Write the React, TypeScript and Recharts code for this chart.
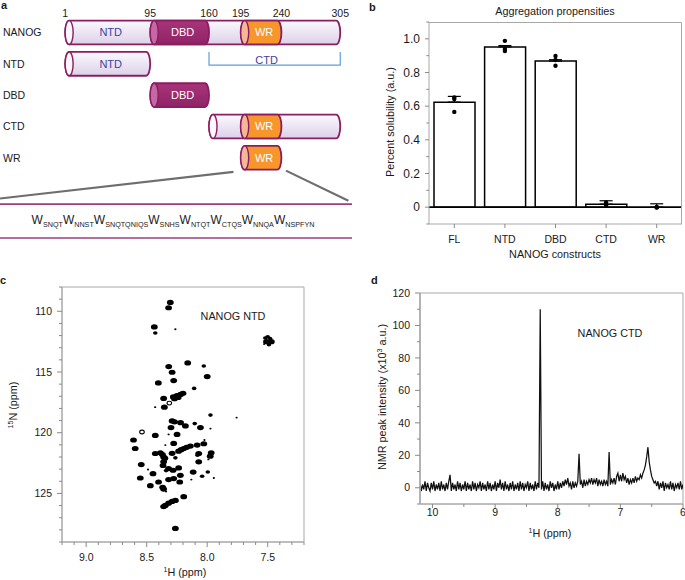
import React from 'react';
import {
  ComposedChart,
  ScatterChart,
  LineChart,
  Bar,
  Line,
  Scatter,
  XAxis,
  YAxis,
  ReferenceArea,
  ReferenceLine,
  ErrorBar,
} from 'recharts';

const FONT = '"Liberation Sans", Arial, Helvetica, sans-serif';
const GRAY = '#a8a8a8';
const TICK = '#8a8a8a';
const INK = '#1a1a1a';

/* ---------------- Panel a: domain architecture ---------------- */
const CONSTRUCTS = ['NANOG', 'NTD', 'DBD', 'CTD', 'WR'];
const RESIDUE_MARKS = [1, 95, 160, 195, 240, 305];
const BACK_SEGMENTS = [
  { row: 0, start: 1, end: 305 },
  { row: 1, start: 1, end: 95 },
  { row: 3, start: 160, end: 305 },
];
const DBD_SEGMENTS = [
  { row: 0, start: 95, end: 160 },
  { row: 2, start: 95, end: 160 },
];
const WR_SEGMENTS = [
  { row: 0, start: 195, end: 240 },
  { row: 3, start: 195, end: 240 },
  { row: 4, start: 195, end: 240 },
];
const DOMAIN_LABELS = [
  { row: 0, start: 1, end: 95, text: 'NTD', kind: 'lav' },
  { row: 1, start: 1, end: 95, text: 'NTD', kind: 'lav' },
  { row: 0, start: 95, end: 160, text: 'DBD', kind: 'dbd' },
  { row: 2, start: 95, end: 160, text: 'DBD', kind: 'dbd' },
  { row: 0, start: 195, end: 240, text: 'WR', kind: 'wr' },
  { row: 3, start: 195, end: 240, text: 'WR', kind: 'wr' },
  { row: 4, start: 195, end: 240, text: 'WR', kind: 'wr' },
];
const CTD_SPAN = { start: 160, end: 305, text: 'CTD' };
const WR_REPEAT = ['SNQT', 'NNST', 'SNQTQNIQS', 'SNHS', 'NTQT', 'CTQS', 'NNQA', 'NSPFYN'];

/* ---------------- Panel b: aggregation propensities ---------------- */
const B_CONSTRUCTS = ['FL', 'NTD', 'DBD', 'CTD', 'WR'];
const B_MEAN = [0.624, 0.952, 0.868, 0.018, 0];
const B_ERR_UP = [0.034, 0.008, 0.008, 0.02, 0.02];
const B_REP1 = [0.652, 0.988, 0.898, 0.028, 0];
const B_REP2 = [0.642, 0.94, 0.874, 0.016, 0];
const B_REP3 = [0.566, 0.928, 0.84, 0.008, -0.002];
const B_TICKS = [-0.1, 0, 0.1, 0.2, 0.3, 0.4, 0.5, 0.6, 0.7, 0.8, 0.9, 1.0, 1.1];

/* ---------------- Panel c: 2D HSQC peaks (1H ppm, 15N ppm, intensity class) ---------------- */
const NTD_PEAKS: [number, number, number][] = [
  [8.305, 109.27, 3], [8.319, 109.71, 3], [8.437, 111.29, 3], [8.429, 111.79, 2], [8.263, 111.48, 1],
  [7.52, 112.2, 2], [7.5, 112.1, 2], [7.48, 112.25, 2], [7.51, 112.5, 3], [7.47, 112.5, 3], [7.49, 112.75, 2], [7.53, 112.7, 1],
  [8.161, 114.25, 3], [8.318, 114.55, 3], [8.028, 114.5, 2], [8.29, 115.02, 3], [8.0, 115.38, 3],
  [8.404, 115.9, 3], [8.277, 115.71, 3], [8.108, 116.35, 2],
  [8.2, 116.75, 3], [8.22, 116.85, 3], [8.25, 116.95, 3], [8.28, 117.05, 3], [8.24, 117.1, 3], [8.27, 117.2, 3],
  [8.36, 117.18, 3], [8.313, 117.56, 4], [8.354, 117.9, 3], [8.43, 117.9, 1], [7.973, 118.55, 2], [7.757, 118.75, 1],
  [8.29, 119.03, 3], [8.22, 119.17, 3], [8.18, 119.44, 3], [8.103, 119.25, 2], [8.056, 119.58, 3], [7.973, 119.66, 1],
  [8.299, 119.58, 3], [8.27, 119.1, 3],
  [8.539, 119.94, 4], [8.429, 120.22, 3], [8.249, 120.14, 3], [8.319, 120.14, 1], [8.609, 120.6, 3], [8.595, 121.3, 3],
  [8.023, 120.6, 1], [8.277, 120.88, 3],
  [8.028, 120.91, 3], [8.083, 121.02, 3], [8.139, 121.1, 3], [8.194, 121.3, 3], [8.236, 121.52, 3], [8.29, 121.7, 3],
  [8.215, 121.4, 3], [8.17, 121.2, 3],
  [8.346, 121.02, 1], [8.387, 121.66, 3], [8.429, 121.71, 3], [8.37, 121.8, 3], [8.36, 122.0, 3],
  [8.07, 121.71, 3], [8.08, 121.85, 2], [7.967, 121.66, 3], [7.975, 121.93, 3], [7.99, 122.2, 1],
  [8.07, 122.4, 3], [8.35, 122.1, 3], [8.36, 122.4, 3], [8.365, 122.7, 3], [8.263, 122.07, 2], [8.545, 122.62, 3],
  [8.489, 123.03, 1],
  [8.319, 122.95, 3], [8.282, 123.09, 3], [8.236, 122.9, 3], [8.34, 123.12, 2], [8.448, 123.37, 3], [8.116, 123.24, 3],
  [7.995, 123.24, 2],
  [8.222, 123.51, 3], [8.553, 123.73, 3], [8.042, 123.59, 2], [7.945, 123.73, 1], [8.277, 123.78, 3], [8.319, 123.86, 3],
  [8.131, 123.86, 1],
  [8.402, 124.06, 3], [8.227, 124.06, 3], [8.47, 124.36, 3], [8.368, 124.5, 3], [8.36, 124.64, 3], [8.34, 124.85, 1],
  [8.194, 125.27, 3], [8.263, 125.58, 3], [8.29, 125.66, 3], [8.319, 125.8, 3], [8.346, 125.99, 3], [8.36, 126.08, 3],
  [8.263, 127.88, 3],
];
const C_X_TICKS = [7.2, 7.3, 7.4, 7.5, 7.6, 7.7, 7.8, 7.9, 8.0, 8.1, 8.2, 8.3, 8.4, 8.5, 8.6, 8.7, 8.8, 8.9, 9.0, 9.1, 9.2];
const C_Y_TICKS = [108, 109, 110, 111, 112, 113, 114, 115, 116, 117, 118, 119, 120, 121, 122, 123, 124, 125, 126, 127, 128, 129];

/* ---------------- Panel d: 1D spectrum of NANOG CTD ---------------- */
const SPEC_START_PPM = 10.2;
const SPEC_STEP_PPM = 0.02;
const SPEC_INTENSITY = [
  3, -2, 2, -1, 4, -2, 3, 0, -2, 3,
  -1, 4, -2, 2, -1, 3, -2, 4, -1, 2,
  -2, 3, -1, 4, 8, -2, 3, -1, 2, -2,
  4, -1, 3, -2, 2, -1, 4, -2, 3, -1,
  2, -2, 4, -1, 3, -2, 2, 0, 4, -2,
  3, -1, 2, -2, 4, -1, 3, -2, 2, -1,
  4, -2, 3, 0, 5, -1, 3, -2, 4, -1,
  2, -2, 3, -1, 4, -2, 2, -1, 3, -2,
  4, -1, 3, -2, 2, 0, 4, -2, 3, -1,
  2, -2, 4, -1, 3, 0, 110, -1, 4, -2,
  3, -1, 2, -2, 4, 0, 3, -2, 2, -1,
  4, -1, 3, 0, 4, 1, 5, 2, 6, 1,
  3, -1, 4, 0, 3, 1, 4, 21, 2, 4,
  0, 5, 1, 4, 2, 5, 3, 6, 2, 5,
  3, 6, 1, 5, 2, 4, 1, 5, 2, 4,
  1, 22, 2, 5, 3, 6, 2, 7, 9, 4,
  8, 4, 9, 5, 7, 3, 6, 2, 5, 3,
  6, 3, 7, 4, 6, 5, 8, 6, 9, 11,
  14, 19, 25, 16, 11, 7, 5, 3, 4, 1,
  4, -1, 3, 0, 4, -2, 3, 0, 2, -1,
  4, -1, 3, -2, 2, 0, 3, -1, 4, -1,
  2,
];
const D_X_TICKS = [6, 6.5, 7, 7.5, 8, 8.5, 9, 9.5, 10];
const D_Y_TICKS = [-10, 0, 10, 20, 30, 40, 50, 60, 70, 80, 90, 100, 110, 120];

/* ---------------- helpers ---------------- */
function axisTick(
  orient: 'left' | 'bottom',
  size: number,
  minor: number,
  margin: number,
  fontSize: number,
  isMajor: (v: any) => boolean,
  fmt: (v: any) => string,
) {
  return (props: any) => {
    const { x, y, payload } = props;
    const v = payload.value;
    const major = isMajor(v);
    const len = major ? size : minor;
    if (orient === 'left') {
      const ax = x + size + margin;
      return (
        <g>
          <line x1={ax} y1={y} x2={ax - len} y2={y} stroke={TICK} strokeWidth={1} />
          {major ? (
            <text x={x} y={y} dy="0.35em" textAnchor="end" fontSize={fontSize} fontFamily={FONT} fill={INK}>
              {fmt(v)}
            </text>
          ) : null}
        </g>
      );
    }
    const ay = y - size - margin;
    return (
      <g>
        <line x1={x} y1={ay} x2={x} y2={ay + len} stroke={TICK} strokeWidth={1} />
        {major ? (
          <text x={x} y={y} dy="0.72em" textAnchor="middle" fontSize={fontSize} fontFamily={FONT} fill={INK}>
            {fmt(v)}
          </text>
        ) : null}
      </g>
    );
  };
}

const KIND_STYLE: Record<string, { body: string; cap: string; text: string }> = {
  lav: { body: 'url(#lavGrad)', cap: '#fbf8fc', text: '#3f3f9f' },
  dbd: { body: 'url(#dbdGrad)', cap: '#c768a5', text: '#ffffff' },
  wr: { body: '#f7962b', cap: '#f4b896', text: '#ffffff' },
};
const BORDER = '#8a1c62';

function cylinderShape(kind: string) {
  return (p: any) => {
    const { x, y, width, height } = p;
    const st = KIND_STYLE[kind];
    const rx = 4;
    const ry = height / 2;
    const d = `M${x + rx},${y} L${x + width - rx},${y} A${rx},${ry} 0 0 1 ${x + width - rx},${y + height} L${x + rx},${y + height} A${rx},${ry} 0 0 1 ${x + rx},${y} Z`;
    return (
      <g>
        <defs>
          <linearGradient id="lavGrad" x1="0" y1="0" x2="0" y2="1">
            <stop offset="0%" stopColor="#fbf9fd" />
            <stop offset="100%" stopColor="#dcd1e8" />
          </linearGradient>
          <linearGradient id="dbdGrad" x1="0" y1="0" x2="0" y2="1">
            <stop offset="0%" stopColor="#a83479" />
            <stop offset="100%" stopColor="#8f2366" />
          </linearGradient>
        </defs>
        <path d={d} fill={st.body} stroke={BORDER} strokeWidth={1.8} />
        <ellipse cx={x + rx} cy={y + ry} rx={rx} ry={ry} fill={st.cap} stroke={BORDER} strokeWidth={1.4} />
      </g>
    );
  };
}

function labelShape(text: string, kind: string) {
  return (p: any) => {
    const { x, y, width, height } = p;
    return (
      <text
        x={x + width / 2 + 3}
        y={y + height / 2}
        dy="0.36em"
        textAnchor="middle"
        fontSize={11}
        fontFamily={FONT}
        fill={KIND_STYLE[kind].text}
      >
        {text}
      </text>
    );
  };
}

function bracketShape(text: string) {
  return (p: any) => {
    const { x, y, width, height } = p;
    return (
      <g>
        <path
          d={`M${x},${y} L${x},${y + height} L${x + width},${y + height} L${x + width},${y}`}
          fill="none"
          stroke="#5d9fd8"
          strokeWidth={1.2}
        />
        <text x={x + width / 2 - 8} y={y + height - 1.5} textAnchor="middle" fontSize={11} fontFamily={FONT} fill="#3f3f9f">
          {text}
        </text>
      </g>
    );
  };
}

const PeakShape = (p: any) => {
  const { cx, cy, payload } = p;
  const s = payload.s;
  if (s === 4) return <ellipse cx={cx} cy={cy} rx={2.3} ry={1.9} fill="#fff" stroke="#000" strokeWidth={1.1} />;
  const rx = s === 3 ? 3.4 : s === 2 ? 2.3 : 1.1;
  const ry = s === 3 ? 2.6 : s === 2 ? 1.8 : 0.9;
  return <ellipse cx={cx} cy={cy} rx={rx} ry={ry} fill="#000" />;
};

/* ---------------- Panels ---------------- */
function PanelA() {
  const anchor = RESIDUE_MARKS.map((r) => ({ x: r, y: -0.3 }));
  const tickStyle = { fontSize: 10.5, fill: INK, fontFamily: FONT };
  return (
    <ComposedChart width={360} height={258} margin={{ top: 0, right: 8, bottom: 0, left: 0 }}>
      <XAxis
        type="number"
        dataKey="x"
        domain={[-71, 318]}
        orientation="top"
        height={20}
        ticks={RESIDUE_MARKS}
        interval={0}
        axisLine={false}
        tickLine={false}
        tickSize={0}
        tickMargin={3}
        tick={tickStyle}
        allowDataOverflow
      />
      <YAxis
        type="number"
        dataKey="y"
        domain={[-0.4, 7.2]}
        reversed
        ticks={[0, 1, 2, 3, 4]}
        interval={0}
        tickFormatter={(v: number) => CONSTRUCTS[v]}
        mirror
        axisLine={false}
        tickLine={false}
        tickSize={0}
        tickMargin={3}
        tick={tickStyle}
        allowDataOverflow
      />
      <Scatter data={anchor} isAnimationActive={false} shape={() => <g />} />
      {BACK_SEGMENTS.map((s, i) => (
        <ReferenceArea key={'b' + i} x1={s.start} x2={s.end} y1={s.row - 0.38} y2={s.row + 0.38} shape={cylinderShape('lav')} />
      ))}
      {DBD_SEGMENTS.map((s, i) => (
        <ReferenceArea key={'d' + i} x1={s.start} x2={s.end} y1={s.row - 0.38} y2={s.row + 0.38} shape={cylinderShape('dbd')} />
      ))}
      {WR_SEGMENTS.map((s, i) => (
        <ReferenceArea key={'w' + i} x1={s.start} x2={s.end} y1={s.row - 0.38} y2={s.row + 0.38} shape={cylinderShape('wr')} />
      ))}
      {DOMAIN_LABELS.map((s, i) => (
        <ReferenceArea key={'l' + i} x1={s.start} x2={s.end} y1={s.row - 0.38} y2={s.row + 0.38} shape={labelShape(s.text, s.kind)} />
      ))}
      <ReferenceArea x1={CTD_SPAN.start} x2={CTD_SPAN.end} y1={0.62} y2={1.04} shape={bracketShape(CTD_SPAN.text)} />
      <ReferenceLine segment={[{ x: 187, y: 4.45 }, { x: -71, y: 5.3 }]} stroke="#6e6e6e" strokeWidth={2.2} />
      <ReferenceLine segment={[{ x: 245, y: 4.41 }, { x: 314, y: 5.37 }]} stroke="#6e6e6e" strokeWidth={2.2} />
      <ReferenceLine segment={[{ x: -71, y: 5.48 }, { x: 318, y: 5.48 }]} stroke="#9c3f7c" strokeWidth={1.6} />
      <ReferenceLine segment={[{ x: -71, y: 6.56 }, { x: 318, y: 6.56 }]} stroke="#9c3f7c" strokeWidth={1.6} />
    </ComposedChart>
  );
}

function PanelB() {
  const data = B_CONSTRUCTS.map((name, i) => ({
    name,
    mean: B_MEAN[i],
    err: [0, B_ERR_UP[i]],
    r1: B_REP1[i],
    r2: B_REP2[i],
    r3: B_REP3[i],
  }));
  const leftTick = axisTick(
    'left', 4, 2.7, 5, 12,
    (v: number) => v >= -0.001 && Math.abs(Math.round(v * 10)) % 2 === 0 && v < 1.05,
    (v: number) => (Math.abs(v) < 1e-9 ? '0' : v.toFixed(1)),
  );
  const bottomTick = axisTick('bottom', 4, 4, 7, 10.5, () => true, (v: string) => v);
  const dot = { r: 2.2, fill: '#000', stroke: 'none' };
  return (
    <ComposedChart width={325} height={280} data={data} margin={{ top: 22, right: 3, bottom: 16, left: 0 }}>
      <XAxis
        dataKey="name"
        type="category"
        height={40}
        interval={0}
        axisLine={{ stroke: GRAY }}
        tickLine={false}
        tickSize={4}
        tickMargin={7}
        tick={bottomTick}
      />
      <YAxis
        type="number"
        domain={[-0.1, 1.1]}
        ticks={B_TICKS}
        interval={0}
        width={69}
        axisLine={{ stroke: GRAY }}
        tickLine={false}
        tickSize={4}
        tickMargin={5}
        tick={leftTick}
        allowDataOverflow
      />
      <Bar dataKey="mean" fill="#fff" stroke="#000" strokeWidth={1.5} barSize={41} isAnimationActive={false} />
      <ReferenceLine y={0} stroke="#000" strokeWidth={1.6} />
      <Line dataKey="mean" stroke="none" dot={false} activeDot={false} isAnimationActive={false}>
        <ErrorBar dataKey="err" width={6.5} stroke="#000" strokeWidth={1.2} direction="y" />
      </Line>
      <Line dataKey="r1" stroke="none" dot={dot} activeDot={false} isAnimationActive={false} />
      <Line dataKey="r2" stroke="none" dot={dot} activeDot={false} isAnimationActive={false} />
      <Line dataKey="r3" stroke="none" dot={dot} activeDot={false} isAnimationActive={false} />
    </ComposedChart>
  );
}

function PanelC() {
  const peaks = NTD_PEAKS.map(([h, n, s]) => ({ h, n, s }));
  const bottomTick = axisTick(
    'bottom', 5, 3, 6, 10.5,
    (v: number) => Math.round(v * 10) % 5 === 0,
    (v: number) => v.toFixed(1),
  );
  const leftTick = axisTick('left', 5, 3, 5, 10.5, (v: number) => v % 5 === 0, (v: number) => String(v));
  return (
    <ScatterChart width={340} height={300} margin={{ top: 7, right: 36, bottom: 0, left: 0 }}>
      <XAxis
        type="number"
        dataKey="h"
        domain={[7.2, 9.2]}
        reversed
        ticks={C_X_TICKS}
        interval={0}
        height={38}
        axisLine={{ stroke: GRAY }}
        tickLine={false}
        tickSize={5}
        tickMargin={6}
        tick={bottomTick}
        allowDataOverflow
      />
      <YAxis
        type="number"
        dataKey="n"
        domain={[108, 129]}
        reversed
        ticks={C_Y_TICKS}
        interval={0}
        width={62}
        axisLine={{ stroke: GRAY }}
        tickLine={false}
        tickSize={5}
        tickMargin={5}
        tick={leftTick}
        allowDataOverflow
      />
      <ReferenceArea x1={7.2} x2={9.2} y1={108} y2={129} fill="none" stroke={GRAY} strokeWidth={1} />
      <Scatter data={peaks} shape={PeakShape} isAnimationActive={false} />
    </ScatterChart>
  );
}

function PanelD() {
  const spec = SPEC_INTENSITY.map((v, i) => ({ ppm: +(SPEC_START_PPM - i * SPEC_STEP_PPM).toFixed(2), v }));
  const bottomTick = axisTick('bottom', 4, 3, 0, 10.5, (v: number) => Number.isInteger(v), (v: number) => String(v));
  const leftTick = axisTick('left', 5, 3, 5, 10.5, (v: number) => v >= 0 && v % 20 === 0, (v: number) => String(v));
  return (
    <LineChart width={345} height={300} data={spec} margin={{ top: 13, right: 2, bottom: 0, left: 0 }}>
      <XAxis
        type="number"
        dataKey="ppm"
        domain={[6, 10.2]}
        reversed
        ticks={D_X_TICKS}
        interval={0}
        height={76}
        axisLine={{ stroke: GRAY }}
        tickLine={false}
        tickSize={4}
        tickMargin={0}
        tick={bottomTick}
        allowDataOverflow
      />
      <YAxis
        type="number"
        domain={[-10, 120]}
        ticks={D_Y_TICKS}
        interval={0}
        width={80}
        axisLine={{ stroke: '#b0b0b0', strokeWidth: 1.8 }}
        tickLine={false}
        tickSize={5}
        tickMargin={5}
        tick={leftTick}
        allowDataOverflow
      />
      <ReferenceArea x1={6} x2={10.2} y1={-10} y2={120} fill="none" stroke={GRAY} strokeWidth={1} />
      <Line type="linear" dataKey="v" stroke="#111" strokeWidth={1.25} dot={false} activeDot={false} isAnimationActive={false} />
    </LineChart>
  );
}

function Overlay() {
  const t = { fontFamily: FONT, fill: INK } as const;
  return (
    <svg width={685} height={580} style={{ position: 'absolute', left: 0, top: 0, pointerEvents: 'none' }}>
      {/* panel b: top and right edges of the plot frame (plot area spans x 429-682, y 22-224) */}
      <path d="M429,22.5 L681.5,22.5 L681.5,224" fill="none" stroke={GRAY} strokeWidth={1} />

      {/* panel letters */}
      <text x={1} y={9} fontSize={11} fontWeight="bold" {...t}>a</text>
      <text x={369} y={11} fontSize={11} fontWeight="bold" {...t}>b</text>
      <text x={0} y={284} fontSize={11} fontWeight="bold" {...t}>c</text>
      <text x={371} y={284} fontSize={11} fontWeight="bold" {...t}>d</text>

      {/* panel a: WR repeat sequence */}
      <text x={173} y={224} textAnchor="middle" fontSize={12} {...t}>
        {WR_REPEAT.map((s, i) => (
          <React.Fragment key={i}>
            <tspan dy={i === 0 ? 0 : -2.8}>W</tspan>
            <tspan fontSize={7.2} dy={2.8}>{s}</tspan>
          </React.Fragment>
        ))}
      </text>

      {/* panel b */}
      <text x={555} y={15} textAnchor="middle" fontSize={10.8} {...t}>Aggregation propensities</text>
      <text transform="translate(390,122) rotate(-90)" textAnchor="middle" dy="0.35em" fontSize={10.8} {...t}>
        Percent solubility (a.u.)
      </text>
      <text x={555} y={258} textAnchor="middle" fontSize={10.8} {...t}>NANOG constructs</text>

      {/* panel c */}
      <text x={233} y={320} textAnchor="middle" fontSize={10.8} {...t}>NANOG NTD</text>
      <text transform="translate(17,405) rotate(-90)" textAnchor="middle" dy="0.35em" fontSize={10.8} {...t}>
        <tspan fontSize={7} dy={-4}>15</tspan>
        <tspan dy={4}>N (ppm)</tspan>
      </text>
      <text x={185} y={576} textAnchor="middle" fontSize={10.8} {...t}>
        <tspan fontSize={7} dy={-4}>1</tspan>
        <tspan dy={4}>H (ppm)</tspan>
      </text>

      {/* panel d */}
      <text x={610} y={337} textAnchor="middle" fontSize={10.8} {...t}>NANOG CTD</text>
      <text transform="translate(382,397) rotate(-90)" textAnchor="middle" dy="0.35em" fontSize={10.8} {...t}>
        <tspan>NMR peak intensity (x10</tspan>
        <tspan fontSize={7} dy={-4}>3</tspan>
        <tspan dy={4}> a.u.)</tspan>
      </text>
      <text x={550} y={537} textAnchor="middle" fontSize={10.8} {...t}>
        <tspan fontSize={7} dy={-4}>1</tspan>
        <tspan dy={4}>H (ppm)</tspan>
      </text>
    </svg>
  );
}

export default function App() {
  return (
    <div
      style={{
        position: 'absolute',
        left: 0,
        top: 0,
        width: 685,
        height: 580,
        background: '#fff',
        fontFamily: FONT,
        overflow: 'hidden',
      }}
    >
      <div style={{ position: 'absolute', left: 0, top: 0 }}>
        <PanelA />
      </div>
      <div style={{ position: 'absolute', left: 360, top: 0 }}>
        <PanelB />
      </div>
      <div style={{ position: 'absolute', left: 0, top: 280 }}>
        <PanelC />
      </div>
      <div style={{ position: 'absolute', left: 340, top: 280 }}>
        <PanelD />
      </div>
      <Overlay />
    </div>
  );
}
